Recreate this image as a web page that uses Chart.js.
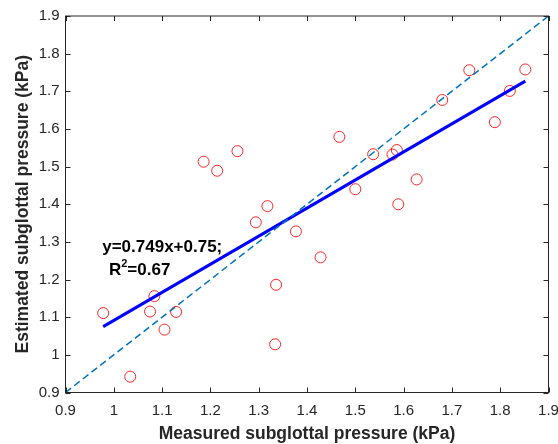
<!DOCTYPE html>
<html>
<head>
<meta charset="utf-8">
<script src="https://cdn.jsdelivr.net/npm/chart.js@4"></script>
<style>
    html, body { margin: 0; padding: 0; background: #fff; }
    #wrap { width: 558px; height: 444px; }
</style>
</head>
<body>
<div id="wrap"><canvas id="chart" width="558" height="444"></canvas></div>
<script>
// Data (kPa)
const measured = [0.978, 1.034, 1.075, 1.084, 1.105, 1.129, 1.186, 1.214, 1.256, 1.294,
    1.318, 1.334, 1.336, 1.377, 1.428, 1.467, 1.500, 1.537, 1.577, 1.586,
    1.589, 1.627, 1.680, 1.736, 1.789, 1.820, 1.852];
const estimated = [1.111, 0.942, 1.115, 1.156, 1.067, 1.114, 1.513, 1.489, 1.541, 1.352,
    1.395, 1.028, 1.186, 1.328, 1.259, 1.579, 1.440, 1.533, 1.532, 1.544,
    1.400, 1.466, 1.677, 1.756, 1.618, 1.701, 1.758];

// Fitted line as drawn (end points)
const fitX = [0.978, 1.852];
const fitY = [1.075, 1.727];

// Identity line
const identX = [0.9, 1.9];
const identY = [0.9, 1.9];

const axisMin = 0.9;
const axisMax = 1.9;
const axisStep = 0.1;

const xTitle = "Measured subglottal pressure (kPa)";
const yTitle = "Estimated subglottal pressure (kPa)";
const fitLabel = "y=0.749x+0.75;";
const r2Label = "=0.67";

const axisColor = "#262626";
const fontFamily = "'Liberation Sans', Arial, Helvetica, sans-serif";

function toPoints(xs, ys) {
    return xs.map((x, i) => ({ x: x, y: ys[i] }));
}

function tickText(value) {
    return String(Math.round(value * 10) / 10);
}

// Box around the axes, inward tick marks and the fit text
const framePlugin = {
    id: "frame",
    afterDraw(chart) {
        const ctx = chart.ctx;
        const area = chart.chartArea;
        const xs = chart.scales.x;
        const ys = chart.scales.y;
        const len = 5;

        ctx.save();
        ctx.strokeStyle = axisColor;
        ctx.lineWidth = 1;
        ctx.strokeRect(area.left, area.top, area.right - area.left, area.bottom - area.top);

        ctx.beginPath();
        xs.ticks.forEach((t) => {
            const px = Math.round(xs.getPixelForValue(t.value)) + 0.5;
            ctx.moveTo(px, area.bottom);
            ctx.lineTo(px, area.bottom - len);
            ctx.moveTo(px, area.top);
            ctx.lineTo(px, area.top + len);
        });
        ys.ticks.forEach((t) => {
            const py = Math.round(ys.getPixelForValue(t.value)) + 0.5;
            ctx.moveTo(area.left, py);
            ctx.lineTo(area.left + len, py);
            ctx.moveTo(area.right, py);
            ctx.lineTo(area.right - len, py);
        });
        ctx.stroke();

        // Equation text, anchored in data units
        ctx.fillStyle = "#000";
        ctx.textBaseline = "alphabetic";
        ctx.textAlign = "left";
        ctx.font = "bold 17px " + fontFamily;
        const x1 = xs.getPixelForValue(0.976);
        const y1 = ys.getPixelForValue(1.2745);
        ctx.fillText(fitLabel, x1, y1);

        const x2 = xs.getPixelForValue(0.99);
        const y2 = ys.getPixelForValue(1.2121);
        ctx.fillText("R", x2, y2);
        const rW = ctx.measureText("R").width;
        ctx.font = "bold 11px " + fontFamily;
        ctx.fillText("2", x2 + rW, y2 - 8);
        const sW = ctx.measureText("2").width;
        ctx.font = "bold 17px " + fontFamily;
        ctx.fillText(r2Label, x2 + rW + sW, y2);
        ctx.restore();
    },
};

const ctx = document.getElementById("chart").getContext("2d");

const chart = new Chart(ctx, {
    type: "scatter",
    data: {
        datasets: [
            {
                label: "Identity",
                type: "line",
                data: toPoints(identX, identY),
                borderColor: "#0072BD",
                borderWidth: 1.5,
                borderDash: [7, 4],
                pointRadius: 0,
                fill: false,
            },
            {
                label: "Fit",
                type: "line",
                data: toPoints(fitX, fitY),
                borderColor: "#0000FF",
                borderWidth: 3,
                pointRadius: 0,
                fill: false,
            },
            {
                label: "Samples",
                data: toPoints(measured, estimated),
                pointStyle: "circle",
                pointRadius: 5.5,
                pointBorderWidth: 1,
                borderColor: "rgba(255, 0, 0, 0.85)",
                backgroundColor: "rgba(0, 0, 0, 0)",
            },
        ],
    },
    options: {
        responsive: false,
        animation: false,
        layout: {
            padding: { top: 16, right: 9.5, left: 0, bottom: 0 },
        },
        plugins: {
            legend: { display: false },
            tooltip: { enabled: false },
        },
        scales: {
            x: {
                type: "linear",
                min: axisMin,
                max: axisMax,
                grid: { display: false, drawTicks: false },
                border: { display: false },
                ticks: {
                    stepSize: axisStep,
                    padding: 9,
                    color: axisColor,
                    font: { family: fontFamily, size: 15 },
                    callback: tickText,
                    maxRotation: 0,
                },
                title: {
                    display: true,
                    text: xTitle,
                    color: axisColor,
                    font: { family: fontFamily, size: 17.5, weight: "bold", lineHeight: 1 },
                    padding: { top: 0, bottom: 1 },
                },
                afterFit: (scale) => {
                    scale.height = 51.5;
                    scale.paddingLeft = 0;
                    scale.paddingRight = 0;
                },
            },
            y: {
                type: "linear",
                min: axisMin,
                max: axisMax,
                grid: { display: false, drawTicks: false },
                border: { display: false },
                ticks: {
                    stepSize: axisStep,
                    padding: 6,
                    color: axisColor,
                    font: { family: fontFamily, size: 15 },
                    callback: tickText,
                },
                title: {
                    display: true,
                    text: yTitle,
                    color: axisColor,
                    font: { family: fontFamily, size: 17.5, weight: "bold", lineHeight: 1 },
                    padding: { top: 14, bottom: 0 },
                },
                afterFit: (scale) => {
                    scale.width = 65.5;
                    scale.paddingTop = 0;
                    scale.paddingBottom = 0;
                },
            },
        },
    },
    plugins: [framePlugin],
});
</script>
</body>
</html>
